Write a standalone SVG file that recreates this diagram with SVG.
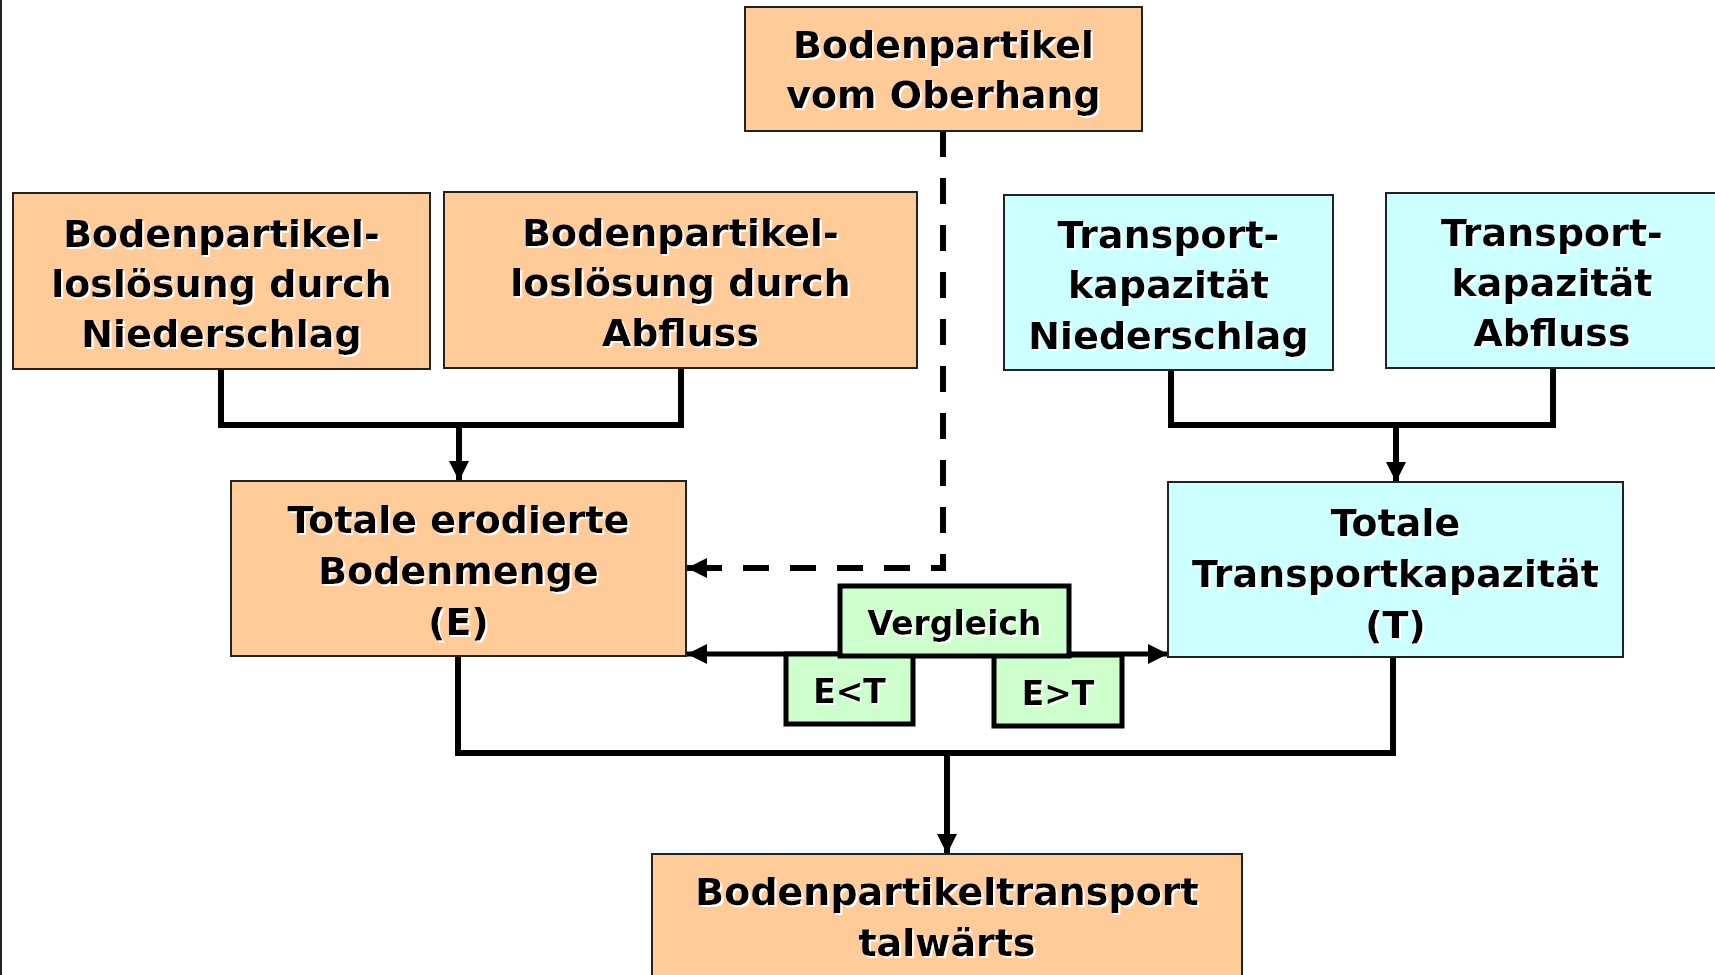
<svg xmlns="http://www.w3.org/2000/svg" width="1715" height="975" viewBox="0 0 1715 975">
<defs>
<filter id="sh" x="-5%" y="-5%" width="110%" height="120%">
<feDropShadow dx="2" dy="2" stdDeviation="0" flood-color="#ffffff" flood-opacity="1"/>
</filter>
<marker id="ah" viewBox="0 0 20 20" refX="20" refY="10" markerWidth="20" markerHeight="20" markerUnits="userSpaceOnUse" orient="auto">
<path d="M0,0 L20,10 L0,20 Z" fill="#000"/>
</marker>
<marker id="ahs" viewBox="0 0 20 20" refX="20" refY="10" markerWidth="20" markerHeight="20" markerUnits="userSpaceOnUse" orient="auto-start-reverse">
<path d="M0,0 L20,10 L0,20 Z" fill="#000"/>
</marker>
</defs>
<style>
.o{fill:#FFCC99;stroke:#222;stroke-width:2}
.c{fill:#CCFFFF;stroke:#222;stroke-width:2}
.g{fill:#CCFFCC;stroke:#000;stroke-width:5}
.t{font-family:"DejaVu Sans",Verdana,sans-serif;font-weight:bold;font-size:38px;fill:#000;text-anchor:middle;filter:url(#sh)}
.s{font-size:33px}
.ln{fill:none;stroke:#000;stroke-width:6}
.d{fill:none;stroke:#000;stroke-width:6;stroke-dasharray:26 21}
</style>
<rect x="0" y="0" width="1715" height="975" fill="#fff"/>
<line x1="1" y1="0" x2="1" y2="975" stroke="#222" stroke-width="2"/>

<g id="connectors">
<polyline class="ln" points="221,369 221,425 681,425 681,368"/>
<line class="ln" x1="459" y1="425" x2="459" y2="481" marker-end="url(#ah)"/>
<polyline class="ln" points="1171,370 1171,425 1553,425 1553,368"/>
<line class="ln" x1="1396" y1="425" x2="1396" y2="482" marker-end="url(#ah)"/>
<polyline class="ln" points="458,656 458,753 1393,753 1393,657"/>
<line class="ln" x1="947" y1="753" x2="947" y2="854" marker-end="url(#ah)"/>
<polyline class="d" points="943,131 943,568 690,568"/>
<line x1="700" y1="568" x2="687" y2="568" stroke="#000" stroke-width="6" marker-end="url(#ah)"/>
<line x1="687" y1="654" x2="1168" y2="654" stroke="#000" stroke-width="5" marker-start="url(#ahs)" marker-end="url(#ah)"/>
</g>

<g id="n-oberhang">
<rect class="o" x="745" y="7" width="397" height="124"/>
<text class="t" x="943.5" y="58">Bodenpartikel</text>
<text class="t" x="943.5" y="108">vom Oberhang</text>
</g>

<g id="n-los-nieder">
<rect class="o" x="13" y="193" width="417" height="176"/>
<text class="t" x="221.5" y="247">Bodenpartikel-</text>
<text class="t" x="221.5" y="297">loslösung durch</text>
<text class="t" x="221.5" y="347">Niederschlag</text>
</g>

<g id="n-los-abfluss">
<rect class="o" x="444" y="192" width="473" height="176"/>
<text class="t" x="680.5" y="246">Bodenpartikel-</text>
<text class="t" x="680.5" y="296">loslösung durch</text>
<text class="t" x="680.5" y="346">Abfluss</text>
</g>

<g id="n-tk-nieder">
<rect class="c" x="1004" y="195" width="329" height="175"/>
<text class="t" x="1168.5" y="248">Transport-</text>
<text class="t" x="1168.5" y="298">kapazität</text>
<text class="t" x="1168.5" y="349">Niederschlag</text>
</g>

<g id="n-tk-abfluss">
<rect class="c" x="1386" y="193" width="332" height="175"/>
<text class="t" x="1552" y="246">Transport-</text>
<text class="t" x="1552" y="296">kapazität</text>
<text class="t" x="1552" y="346">Abfluss</text>
</g>

<g id="n-E">
<rect class="o" x="231" y="481" width="455" height="175"/>
<text class="t" x="458.5" y="533">Totale erodierte</text>
<text class="t" x="458.5" y="584">Bodenmenge</text>
<text class="t" x="458.5" y="635">(E)</text>
</g>

<g id="n-T">
<rect class="c" x="1168" y="482" width="455" height="175"/>
<text class="t" x="1395.5" y="536">Totale</text>
<text class="t" x="1395.5" y="587">Transportkapazität</text>
<text class="t" x="1395.5" y="638">(T)</text>
</g>

<g id="n-EltT">
<rect class="g" x="786" y="654" width="127" height="70"/>
<text class="t s" x="849.5" y="703">E&lt;T</text>
</g>

<g id="n-EgtT">
<rect class="g" x="994" y="655" width="128" height="71"/>
<text class="t s" x="1058" y="705">E&gt;T</text>
</g>

<g id="n-vergleich">
<rect class="g" x="840" y="586" width="229" height="70"/>
<text class="t s" x="954.5" y="635">Vergleich</text>
</g>

<g id="n-talwaerts">
<rect class="o" x="652" y="854" width="590" height="140"/>
<text class="t" x="947" y="905">Bodenpartikeltransport</text>
<text class="t" x="947" y="956">talwärts</text>
</g>
</svg>
